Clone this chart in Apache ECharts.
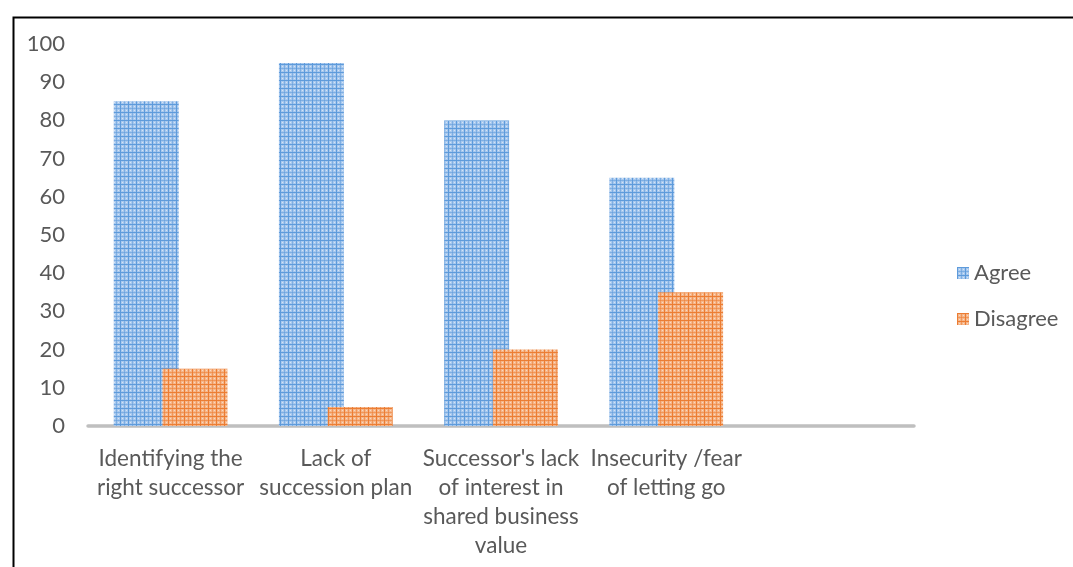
<!DOCTYPE html>
<html>
<head>
<meta charset="utf-8">
<script src="https://cdn.jsdelivr.net/npm/echarts@6/dist/echarts.min.js"></script>
<style>
  html, body { margin: 0; padding: 0; background: #fff; }
  #chart { width: 1073px; height: 567px; }
</style>
</head>
<body>
<div id="chart"></div>
<script>
// Category labels (last slot left blank on purpose, as in the survey sheet)
const categories = [
  'Identifying the\nright successor',
  'Lack of\nsuccession plan',
  "Successor's lack\nof interest in\nshared business\nvalue",
  'Insecurity /fear\nof letting go',
  ''
];
const agree = [85, 95, 80, 65, null];
const disagree = [15, 5, 20, 35, null];
const seriesNames = ['Agree', 'Disagree'];

// Small plaid tile used as a hatched fill for the bars
function plaid(base, line, dot) {
  const c = document.createElement('canvas');
  c.width = 8; c.height = 8;
  const g = c.getContext('2d');
  g.fillStyle = base;
  g.fillRect(0, 0, 8, 8);
  g.fillStyle = line;
  g.fillRect(0, 0, 1, 8);
  g.fillRect(0, 0, 8, 1);
  g.globalAlpha = 0.55;
  g.fillRect(4, 0, 1, 8);
  g.fillRect(0, 4, 8, 1);
  g.globalAlpha = 1;
  g.fillStyle = dot;
  g.fillRect(2, 2, 1, 1);
  g.fillRect(6, 6, 1, 1);
  g.fillRect(2, 6, 1, 1);
  g.fillRect(6, 2, 1, 1);
  return { image: c, repeat: 'repeat' };
}

const blueFill = plaid('#a7c8ee', '#5e9bdb', '#d4e4f6');
const orangeFill = plaid('#f5b68a', '#ec7d33', '#fbd9c0');

const font = 'Lato, "Open Sans", sans-serif';
const chart = echarts.init(document.getElementById('chart'));

chart.setOption({
  animation: false,
  backgroundColor: '#fff',
  graphic: [{
    type: 'rect',
    left: 11, top: 15,
    shape: { width: 1200, height: 700 },
    style: { fill: 'none', stroke: '#000', lineWidth: 2 },
    silent: true,
    z: 100
  }],
  grid: { left: 88, right: 159, top: 44, bottom: 141 },
  legend: {
    orient: 'vertical',
    left: 952,
    top: 257,
    itemWidth: 12,
    itemHeight: 12,
    itemGap: 24,
    icon: 'rect',
    textStyle: { fontFamily: font, fontSize: 22, color: '#595959', lineHeight: 22 },
    data: seriesNames
  },
  xAxis: {
    type: 'category',
    data: categories,
    axisLine: { lineStyle: { color: '#bfbfbf', width: 3.5 } },
    axisTick: { show: false },
    axisLabel: {
      interval: 0,
      margin: 18,
      fontFamily: font,
      fontSize: 22.5,
      lineHeight: 29,
      color: '#595959'
    }
  },
  yAxis: {
    type: 'value',
    min: 0, max: 100, interval: 10,
    splitLine: { show: false },
    axisLine: { show: false },
    axisTick: { show: false },
    axisLabel: { margin: 23, fontFamily: font, fontSize: 22, color: '#595959' }
  },
  series: [
    {
      name: seriesNames[0],
      type: 'bar',
      data: agree,
      barWidth: 65,
      barGap: '-25%',
      itemStyle: { color: blueFill },
      z: 2
    },
    {
      name: seriesNames[1],
      type: 'bar',
      data: disagree,
      barWidth: 65,
      itemStyle: { color: orangeFill },
      z: 3
    }
  ]
});
</script>
</body>
</html>
